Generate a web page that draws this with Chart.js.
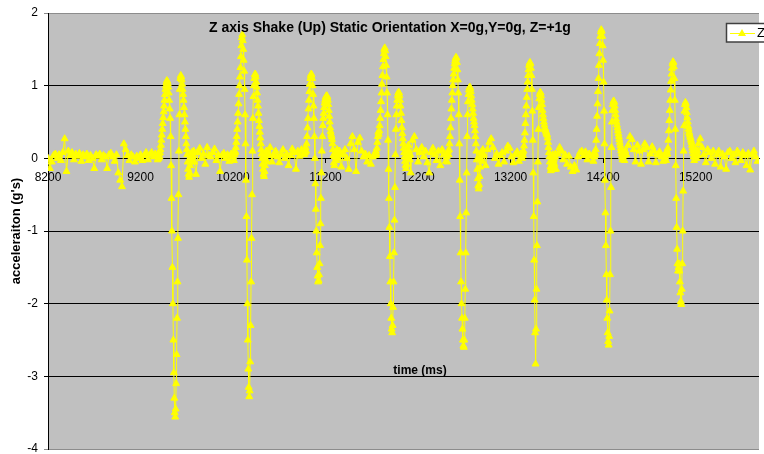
<!DOCTYPE html>
<html><head><meta charset="utf-8">
<script src="https://cdn.jsdelivr.net/npm/chart.js@4.4.0/dist/chart.umd.min.js"></script>
<style>html,body{margin:0;padding:0;background:#fff;overflow:hidden}#wrap{width:764px;height:454px}</style>
</head><body><div id="wrap"><canvas id="c" width="764" height="454"></canvas></div>
<script>
// ---- data (acceleration in g) ----
const chartTitle = "Z axis Shake (Up) Static Orientation X=0g,Y=0g, Z=+1g";
const yTitle = "acceleraiton (g's)";
const xTitle = "time (ms)";
const seriesLabel = "Z";
const xTickValues = [8200, 9200, 10200, 11200, 12200, 13200, 14200, 15200];
const yTickValues = [-4, -3, -2, -1, 0, 1, 2];

const quietStep = 20;   // ms between samples in quiet stretches
const shakeStep = 5;    // ms between samples during shakes
const segmentStarts = [8200, 9380, 9780, 10200, 10580, 10970, 11350, 11740, 12120,
  12510, 12910, 13320, 13690, 14090, 14450, 14870, 15230];

const quiet0 = [0.0,-0.14,-0.05,0.04,0.06,0.0,0.05,-0.03,0.08,0.27,
  -0.18,0.1,0.04,0.08,-0.02,0.06,0.03,0.07,-0.04,0.05,
  0.02,0.06,-0.03,0.04,0.0,-0.14,0.05,0.03,0.06,-0.02,
  0.04,0.02,-0.14,0.05,0.07,0.02,-0.04,0.05,-0.2,-0.3,
  -0.39,0.2,0.12,0.04,-0.03,0.05,0.02,-0.05,0.03,0.0,
  0.05,-0.03,0.04,0.08,-0.02,0.05,0.08,0.02,0.06];
const shake1 = [0.03,-0.02,0.05,0.0,0.06,0.02,0.08,0.12,0.18,0.25,0.32,
  0.4,0.48,0.56,0.64,0.72,0.8,0.88,0.95,1.0,1.04,1.07,1.06,1.03,0.98,
  0.9,0.8,0.68,0.55,0.3,-0.1,-0.55,-1.0,-1.5,-2.0,-2.5,-2.95,-3.3,
  -3.5,-3.56,-3.45,-3.1,-2.7,-2.2,-1.7,-1.1,-0.5,0.1,0.6,0.95,1.1,
  1.14,1.12,1.08,1.02,0.95,0.88,0.8,0.7,0.6,0.5,0.4,0.3,0.2,0.12,0.05,-0.05,
  -0.15,-0.22,-0.26,-0.2,-0.1,0.0,0.05,-0.03,0.08,0.02,-0.05,0.04,0.1];
const quiet1 = [-0.05,-0.22,0.08,0.14,0.0,0.06,-0.08,0.15,0.04,0.02,0.08,
  0.13,-0.03,0.05,-0.18,0.04,0.07,0.0,0.05,-0.04,0.06];
const shake2 = [0.02,0.06,-0.03,0.05,0.1,0.08,0.15,0.22,0.3,0.4,
  0.5,0.62,0.75,0.88,1.0,1.12,1.25,1.4,1.55,1.66,1.7,1.62,
  1.5,1.35,1.2,0.95,0.6,0.2,-0.3,-0.8,-1.4,-2.0,-2.5,-2.9,
  -3.15,-3.28,-3.2,-2.8,-2.3,-1.7,-1.1,-0.5,0.1,0.55,0.85,1.0,
  1.1,1.15,1.16,1.12,1.05,0.98,0.9,0.8,0.72,0.62,0.52,0.44,
  0.36,0.28,0.2,0.12,0.06,0.0,-0.08,-0.15,-0.22,-0.25,-0.18,-0.1,
  -0.02,0.05,0.1,0.04,-0.05,0.06];
const quiet2 = [0.08,0.15,-0.05,0.04,0.1,0.02,-0.06,0.05,0.12,0.0,
  0.06,-0.1,0.04,0.13,0.08,-0.15,0.1,0.03,0.12,0.06];
const shake3 = [0.05,0.12,0.08,0.15,0.1,0.2,0.3,0.42,0.55,0.68,
  0.8,0.92,1.02,1.1,1.14,1.16,1.15,1.1,1.0,0.88,0.72,0.55,
  0.3,0.0,-0.35,-0.7,-1.0,-1.3,-1.5,-1.62,-1.7,-1.68,-1.6,-1.45,
  -1.2,-0.9,-0.55,-0.2,0.1,0.3,0.45,0.55,0.62,0.7,0.76,0.8,
  0.83,0.85,0.86,0.86,0.84,0.8,0.74,0.66,0.58,0.5,0.42,0.37,
  0.33,0.3,0.26,0.2,0.12,0.04,-0.06,-0.1,0.02,0.08,0.05,-0.03,
  0.06,0.12,0.07,0.0,0.05,0.1];
const quiet3 = [0.1,-0.12,0.05,0.12,0.0,-0.15,0.2,0.3,0.12,-0.18,
  0.22,0.28,0.1,0.02,0.06,-0.05,0.04,-0.08,0.02,0.06];
const shake4 = [0.04,0.1,0.06,0.14,0.22,0.3,0.36,0.33,0.38,0.45,
  0.55,0.66,0.78,0.9,1.02,1.14,1.26,1.36,1.44,1.5,1.52,1.48,
  1.4,1.28,1.12,0.9,0.6,0.25,-0.15,-0.55,-0.95,-1.35,-1.7,-2.0,
  -2.2,-2.35,-2.4,-2.3,-2.05,-1.7,-1.3,-0.85,-0.4,0.05,0.4,0.6,
  0.72,0.8,0.86,0.9,0.91,0.9,0.86,0.8,0.72,0.62,0.52,0.42,
  0.34,0.27,0.2,0.14,0.08,0.02,-0.04,-0.1,-0.14,-0.08,0.0,0.06,
  0.12,0.18,0.1,0.04,-0.02,0.05];
const quiet4 = [-0.2,0.25,0.3,0.12,-0.05,0.08,0.15,0.02,0.1,-0.06,
  -0.2,0.08,0.14,0.05,-0.03,0.1,-0.1,0.12,0.05,-0.04];
const shake5 = [0.02,-0.05,0.06,0.1,0.05,0.12,0.2,0.3,0.42,0.55,
  0.68,0.8,0.9,1.0,1.08,1.16,1.24,1.3,1.34,1.37,1.39,1.38,
  1.32,1.22,1.08,0.9,0.6,0.2,-0.3,-0.8,-1.3,-1.7,-2.0,-2.2,
  -2.35,-2.5,-2.58,-2.6,-2.5,-2.2,-1.8,-1.3,-0.75,-0.2,0.3,0.6,
  0.78,0.88,0.94,0.97,0.98,0.96,0.92,0.86,0.8,0.74,0.68,0.62,
  0.55,0.5,0.45,0.38,0.3,0.2,0.1,-0.02,-0.15,-0.28,-0.38,-0.42,
  -0.36,-0.25,-0.12,0.0,0.08,0.05,-0.04,0.06,0.12,0.04];
const quiet5 = [0.05,-0.1,0.12,0.22,0.27,0.15,0.0,0.06,-0.08,0.04,
  0.08,-0.05,0.1,0.17,0.14,0.02,-0.06,0.05,0.09,-0.04,0.06];
const shake6 = [0.05,0.0,0.08,0.04,0.1,0.17,0.25,0.35,0.48,0.6,
  0.72,0.84,0.95,1.05,1.14,1.22,1.28,1.31,1.32,1.3,1.24,1.14,
  0.95,0.65,0.25,-0.2,-0.8,-1.4,-1.95,-2.4,-2.83,-2.35,-1.8,-1.2,
  -0.6,-0.05,0.4,0.7,0.82,0.88,0.91,0.9,0.86,0.8,0.74,0.66,
  0.6,0.55,0.5,0.46,0.42,0.4,0.38,0.36,0.34,0.32,0.28,0.22,
  0.15,0.08,0.02,-0.05,-0.12,-0.17,-0.14,-0.08,0.0,0.05,-0.02,-0.1,
  -0.15,-0.08,0.02,0.06];
const quiet6 = [-0.15,0.06,0.15,0.1,-0.02,0.05,-0.08,0.03,-0.12,-0.18,
  -0.1,-0.16,0.02,0.08,0.1,0.04,0.09,-0.02,0.06,0.03];
const shake7 = [0.03,-0.04,0.06,0.02,0.08,0.05,0.12,0.25,0.4,0.58,
  0.75,0.92,1.1,1.28,1.44,1.58,1.68,1.74,1.77,1.75,1.68,1.55,
  1.35,1.05,0.65,0.2,-0.3,-0.75,-1.2,-1.6,-1.95,-2.2,-2.4,-2.52,
  -2.57,-2.45,-2.1,-1.6,-1.0,-0.4,0.15,0.5,0.66,0.74,0.78,0.79,
  0.77,0.72,0.66,0.6,0.54,0.5,0.46,0.42,0.38,0.34,0.3,0.26,
  0.22,0.18,0.14,0.1,0.06,0.02,-0.02,0.03,0.08,0.04,-0.03,0.05,0.1,0.06];
const quiet7 = [0.05,0.18,0.3,0.26,0.12,-0.05,0.18,0.1,-0.08,0.12,
  0.2,0.15,-0.05,0.06,0.16,0.1,-0.06,0.05,0.09,0.02,-0.04];
const shake8 = [0.02,0.07,-0.03,0.05,0.1,0.06,0.14,0.25,0.38,0.52,
  0.66,0.8,0.94,1.06,1.16,1.24,1.3,1.33,1.32,1.26,1.1,0.8,
  0.4,-0.1,-0.55,-0.95,-1.25,-1.45,-1.55,-1.5,-1.45,-1.55,-1.7,-1.85,
  -1.97,-2.01,-1.8,-1.45,-1.0,-0.45,0.1,0.45,0.65,0.74,0.77,0.75,
  0.7,0.63,0.56,0.5,0.44,0.4,0.36,0.33,0.3,0.28,0.25,0.22,
  0.18,0.14,0.1,0.06,0.02,-0.03,0.02,0.08,0.12,0.06,0.0,0.05,0.1,0.04];
const quiet8 = [0.2,0.27,0.15,0.05,-0.06,0.12,0.08,0.0,0.1,-0.08,
  0.05,0.1,-0.12,0.06,0.02,-0.15,0.08,0.1,0.0,0.05,
  -0.06,0.1,0.06,-0.03,0.08,0.04,-0.1,0.07,-0.16,0.05,0.1,0.02,-0.04];

const segmentValues = [quiet0, shake1, quiet1, shake2, quiet2, shake3, quiet3, shake4,
  quiet4, shake5, quiet5, shake6, quiet6, shake7, quiet7, shake8, quiet8];

// ---- build points table (sample time, value) ----
const points = [];
segmentValues.forEach((vals, s) => {
  const step = (s % 2 === 0) ? quietStep : shakeStep;
  vals.forEach((v, i) => points.push({x: segmentStarts[s] + i * step, y: v}));
});

const FONT = '"Liberation Sans", Arial, sans-serif';

const decor = {
  id: 'decor',
  beforeDraw(chart) {
    const {ctx, chartArea: a} = chart;
    ctx.save();
    ctx.fillStyle = '#ffffff';
    ctx.fillRect(0, 0, chart.width, chart.height);
    ctx.fillStyle = '#c0c0c0';
    ctx.fillRect(a.left, a.top, a.right - a.left, a.bottom - a.top);
    ctx.restore();
  },
  afterDraw(chart) {
    const {ctx} = chart;
    ctx.save();
    ctx.fillStyle = '#000';
    ctx.textAlign = 'center';
    ctx.textBaseline = 'middle';
    ctx.font = 'bold 14px ' + FONT;
    ctx.fillText(chartTitle, 390, 28);
    ctx.font = 'bold 12px ' + FONT;
    ctx.fillText(xTitle, 420, 371);
    // legend box
    ctx.fillStyle = '#ffffff';
    ctx.fillRect(726, 23, 60, 19);
    ctx.strokeStyle = '#404040';
    ctx.lineWidth = 1.5;
    ctx.strokeRect(726.5, 23.5, 60, 18.5);
    ctx.strokeStyle = '#ffff00';
    ctx.lineWidth = 1;
    ctx.beginPath(); ctx.moveTo(730, 33.5); ctx.lineTo(755, 33.5); ctx.stroke();
    ctx.fillStyle = '#ffff00';
    ctx.beginPath(); ctx.moveTo(742, 29); ctx.lineTo(746, 36); ctx.lineTo(738, 36); ctx.closePath(); ctx.fill();
    ctx.fillStyle = '#000';
    ctx.textAlign = 'left';
    ctx.font = '13px ' + FONT;
    ctx.fillText(seriesLabel, 757, 33);
    ctx.restore();
  }
};

new Chart(document.getElementById('c'), {
  type: 'line',
  data: {
    datasets: [{
      label: seriesLabel,
      data: points,
      borderColor: '#ffff00',
      backgroundColor: '#ffff00',
      borderWidth: 1,
      pointStyle: 'triangle',
      pointRadius: 4,
      pointBorderWidth: 1,
      pointBackgroundColor: '#ffff00',
      pointBorderColor: '#ffff00',
      tension: 0,
      fill: false
    }]
  },
  options: {
    responsive: false,
    animation: false,
    events: [],
    layout: {padding: {top: 13, right: 0, bottom: 1, left: 0}},
    plugins: {legend: {display: false}, tooltip: {enabled: false}, title: {display: false}},
    scales: {
      x: {
        type: 'linear', min: 8200, max: 15885, position: {y: 0},
        afterBuildTicks: s => { s.ticks = xTickValues.map(v => ({value: v})); },
        afterFit: s => { s.paddingLeft = 0; s.paddingRight = 0; },
        ticks: {autoSkip: false, maxRotation: 0, color: '#000', font: {family: FONT, size: 12}, padding: 8,
          callback: v => String(v)},
        grid: {drawOnChartArea: false, drawTicks: true, tickLength: 4, color: '#000'},
        border: {display: true, color: '#000'}
      },
      y: {
        min: -4, max: 2,
        afterBuildTicks: s => { s.ticks = yTickValues.map(v => ({value: v})); },
        afterFit: s => { s.width = 48; s.paddingTop = 0; s.paddingBottom = 0; },
        ticks: {color: '#000', font: {family: FONT, size: 12}, padding: 6, callback: v => String(v)},
        grid: {color: c => (c.tick && (c.tick.value === 2 || c.tick.value === -4)) ? '#8c8c8c' : '#000',
          lineWidth: 1, tickLength: 4},
        border: {display: true, color: '#000'},
        title: {display: true, text: yTitle, color: '#000', font: {family: FONT, size: 13, weight: 'bold'},
          padding: {top: 9, bottom: 0}}
      }
    }
  },
  plugins: [decor]
});
</script></body></html>
